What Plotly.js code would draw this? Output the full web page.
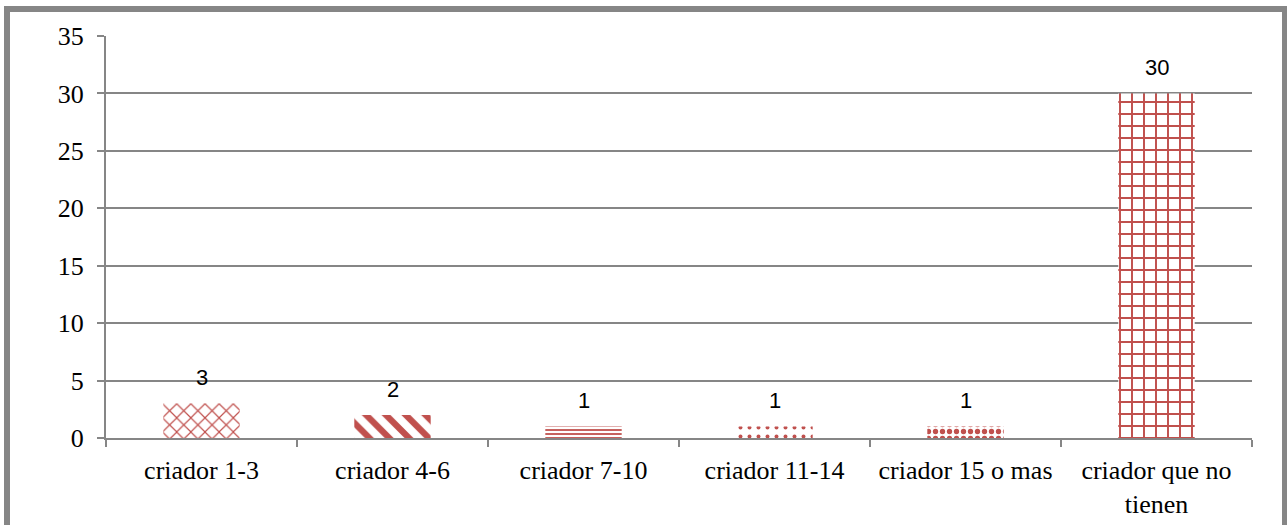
<!DOCTYPE html>
<html>
<head>
<meta charset="utf-8">
<script src="https://cdn.plot.ly/plotly-3.0.1.min.js"></script>
<style>
  html, body { margin: 0; padding: 0; background: #ffffff; }
  #wrap { position: relative; width: 1287px; height: 525px; }
  #chart { position: absolute; left: 0; top: 0; width: 1287px; height: 525px; }
  #frame { position: absolute; left: 4px; top: 6px; width: 1272px; height: 530px;
           border-left: 6px solid #868686; border-top: 6px solid #868686; border-right: 5px solid #868686;
           pointer-events: none; box-sizing: content-box; }
</style>
</head>
<body>
<div id="wrap">
  <div id="chart"></div>
  <div id="frame"></div>
</div>
<script>
const categories = ["criador 1-3", "criador 4-6", "criador 7-10", "criador 11-14", "criador 15 o mas", "criador que no<br>tienen"];
const values = [3, 2, 1, 1, 1, 30];
const labels = ["3", "2", "1", "1", "1", "30"];
const yTicks = [0, 5, 10, 15, 20, 25, 30, 35];

const red = "#C0504D";
const patternShapes = ["x", "\\", "-", ".", ".", "+"];
const patternSizes = [10, 14, 4, 9, 7, 12];
const patternSolidity = [0.22, 0.45, 0.45, 0.15, 0.45, 0.3];

const trace = {
  type: "bar",
  x: categories,
  y: values,
  width: 0.4,
  marker: {
    color: "#ffffff",
    line: { width: 0 },
    pattern: {
      shape: patternShapes,
      fgcolor: red,
      bgcolor: "#ffffff",
      fillmode: "replace",
      size: patternSizes,
      solidity: patternSolidity
    }
  },
  hoverinfo: "none"
};

const annotations = categories.map((c, i) => ({
  x: c, y: values[i], xref: "x", yref: "y",
  text: labels[i], showarrow: false, yshift: 26,
  font: { family: "Liberation Sans, Arial, sans-serif", size: 22, color: "#000000" }
}));

const serif = "Liberation Serif, Times New Roman, serif";

const layout = {
  width: 1287, height: 525,
  margin: { l: 106, r: 35, t: 36, b: 87 },
  paper_bgcolor: "#ffffff",
  plot_bgcolor: "#ffffff",
  showlegend: false,
  font: { family: serif, size: 26, color: "#000000" },
  xaxis: {
    type: "category",
    showgrid: false,
    showline: true, linecolor: "#868686", linewidth: 2,
    ticks: "outside", tickson: "boundaries", ticklen: 7, tickcolor: "#868686", tickwidth: 2,
    ticklabelstandoff: 8,
    tickfont: { family: serif, size: 26, color: "#000000" },
    fixedrange: true
  },
  yaxis: {
    range: [0, 35],
    tickvals: yTicks,
    ticktext: yTicks.map(String),
    showgrid: true, gridcolor: "#868686", gridwidth: 2,
    showline: true, linecolor: "#868686", linewidth: 2,
    ticks: "outside", ticklen: 7, tickcolor: "#868686", tickwidth: 2,
    ticklabelstandoff: 8,
    zeroline: false,
    tickfont: { family: serif, size: 26, color: "#000000" },
    fixedrange: true
  },
  annotations: annotations
};

Plotly.newPlot("chart", [trace], layout, { displayModeBar: false, staticPlot: true });
</script>
</body>
</html>
